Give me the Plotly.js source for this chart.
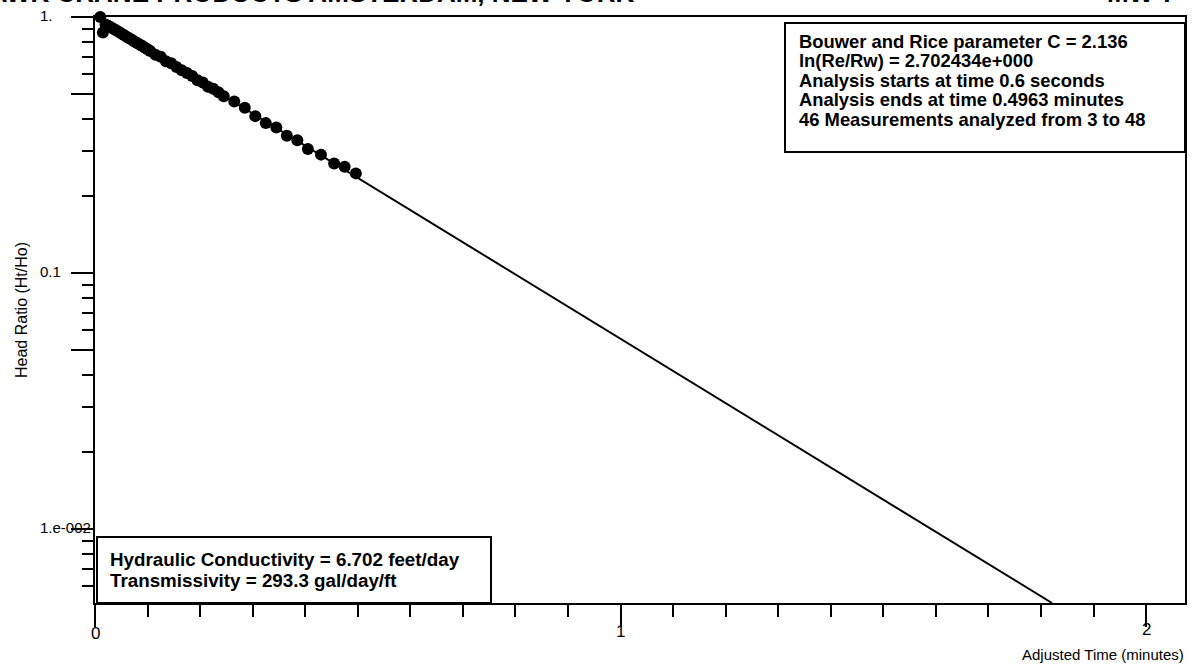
<!DOCTYPE html>
<html>
<head>
<meta charset="utf-8">
<script src="https://cdn.plot.ly/plotly-3.0.1.min.js"></script>
<style>html,body{margin:0;padding:0;background:#fff;}#chart{width:1193px;height:666px;}</style>
</head>
<body>
<div id="chart"></div>
<script>
// ---- data ----
const timeMin = [0.010,0.015,0.020,0.025,0.030,0.035,0.040,0.045,0.050,0.055,
  0.060,0.065,0.070,0.075,0.080,0.085,0.090,0.095,0.100,0.105,
  0.115,0.125,0.135,0.145,0.155,0.165,0.175,0.185,0.195,0.205,
  0.215,0.225,0.235,0.245,0.265,0.285,0.305,0.325,0.345,0.365,
  0.385,0.405,0.430,0.455,0.475,0.4963];
const headRatio = [1.000,0.870,0.935,0.925,0.912,0.900,0.888,0.876,0.862,0.850,
  0.838,0.826,0.815,0.803,0.792,0.781,0.770,0.758,0.748,0.737,
  0.712,0.700,0.672,0.660,0.638,0.620,0.604,0.588,0.566,0.555,
  0.534,0.525,0.508,0.490,0.468,0.442,0.410,0.385,0.370,0.344,
  0.330,0.305,0.290,0.268,0.260,0.245];
const fitTime = [0, 1.821];
const fitHead = [1.0, 0.00514];

const yTickVals = [1, 0.1, 0.01];
const yTickText = ["1.", "0.1", "1.e-002"];
const xTickVals = [0, 1, 2];
const xTickText = ["0", "1", "2"];

const titleLeft = "MOHAWK CRANE PRODUCTS AMSTERDAM, NEW YORK";
const titleRight = "MW-7";
const infoLines = [
  "Bouwer and Rice parameter C = 2.136",
  "ln(Re/Rw) = 2.702434e+000",
  "Analysis starts at time 0.6 seconds",
  "Analysis ends at time 0.4963 minutes",
  "46 Measurements analyzed from 3 to 48"
];
const resultLines = [
  "Hydraulic Conductivity = 6.702 feet/day",
  "Transmissivity = 293.3 gal/day/ft"
];
const xTitle = "Adjusted Time (minutes)";
const yTitle = "Head Ratio (Ht/Ho)";

// ---- layout helpers ----
const W = 1193, H = 666;
const L = 95, R = 1185, T = 17, B = 603;
const px = x => (x - L) / (R - L);
const py = y => (B - y) / (B - T);
const FONT = "Liberation Sans, Arial, sans-serif";

const traces = [
  {x: fitTime, y: fitHead, type: 'scatter', mode: 'lines',
   line: {color: '#000', width: 2}, hoverinfo: 'skip'},
  {x: timeMin, y: headRatio, type: 'scatter', mode: 'markers',
   marker: {color: '#000', size: 12}, cliponaxis: false}
];

const annotations = [];
// y tick labels (left aligned)
yTickVals.forEach((v, i) => annotations.push({
  xref: 'paper', yref: 'y', x: px(38), y: Math.log10(v), xanchor: 'left', yanchor: 'middle',
  text: yTickText[i], showarrow: false, yshift: 2,
  font: {family: FONT, size: 15, color: '#000'}
}));
// x tick labels
const xLabY = [633, 631, 629];
xTickVals.forEach((v, i) => annotations.push({
  xref: 'x', yref: 'paper', x: v, y: py(xLabY[i]), xanchor: 'center', yanchor: 'middle',
  text: xTickText[i], showarrow: false,
  font: {family: FONT, size: 17, color: '#000'}
}));
// info box lines
const infoY = [41, 60.5, 80, 99.5, 119];
infoLines.forEach((t, i) => annotations.push({
  xref: 'paper', yref: 'paper', x: px(797), y: py(infoY[i]), xanchor: 'left', yanchor: 'middle',
  text: t, showarrow: false, font: {family: FONT, size: 18.4, color: '#000', weight: 'bold'}
}));
const resY = [559, 580];
resultLines.forEach((t, i) => annotations.push({
  xref: 'paper', yref: 'paper', x: px(108), y: py(resY[i]), xanchor: 'left', yanchor: 'middle',
  text: t, showarrow: false, font: {family: FONT, size: 18.8, color: '#000', weight: 'bold'}
}));
annotations.push({
  xref: 'paper', yref: 'paper', x: px(1186), y: py(654), xanchor: 'right', yanchor: 'middle',
  text: xTitle, showarrow: false, font: {family: FONT, size: 15, color: '#000'}
});
annotations.push({
  xref: 'paper', yref: 'paper', x: px(21), y: py(310), xanchor: 'center', yanchor: 'middle',
  text: yTitle, textangle: -90, showarrow: false, font: {family: FONT, size: 16, color: '#000'}
});
annotations.push({
  xref: 'paper', yref: 'paper', x: px(637), y: py(-7), xanchor: 'right', yanchor: 'middle',
  text: titleLeft, showarrow: false, font: {family: FONT, size: 26, color: '#000', weight: 'bold'}
});
annotations.push({
  xref: 'paper', yref: 'paper', x: px(1178), y: py(-7), xanchor: 'right', yanchor: 'middle',
  text: titleRight, showarrow: false, font: {family: FONT, size: 26, color: '#000', weight: 'bold'}
});

const shapes = [
  {type: 'rect', xref: 'paper', yref: 'paper', x0: px(785), x1: px(1185), y0: py(152), y1: py(23),
   line: {color: '#000', width: 2}, fillcolor: 'rgba(255,255,255,1)', layer: 'above'},
  {type: 'rect', xref: 'paper', yref: 'paper', x0: px(97), x1: px(491), y0: py(603), y1: py(537),
   line: {color: '#000', width: 2}, fillcolor: 'rgba(255,255,255,1)', layer: 'above'}
];

const layout = {
  width: W, height: H,
  margin: {l: L, r: W - R, t: T, b: H - B, pad: 0},
  paper_bgcolor: '#fff', plot_bgcolor: '#fff',
  showlegend: false,
  font: {family: FONT, color: '#000'},
  xaxis: {
    range: [0, 2.074], showgrid: false, zeroline: false,
    showline: true, linecolor: '#000', linewidth: 2, mirror: true,
    ticks: 'outside', ticklen: 22, tickwidth: 2, tickcolor: '#000',
    tickmode: 'array', tickvals: xTickVals, showticklabels: false,
    minor: {dtick: 0.1, tick0: 0, ticks: 'outside', ticklen: 12, tickwidth: 2, tickcolor: '#000', showgrid: false}
  },
  yaxis: {
    type: 'log', range: [Math.log10(0.00514), 0], showgrid: false, zeroline: false,
    showline: true, linecolor: '#000', linewidth: 2, mirror: true,
    ticks: 'outside', ticklen: 22, tickwidth: 2, tickcolor: '#000',
    tickmode: 'array', tickvals: [1, 0.5, 0.1, 0.05, 0.01], showticklabels: false,
    minor: {dtick: 'D1', ticks: 'outside', ticklen: 11, tickwidth: 2, tickcolor: '#000', showgrid: false}
  },
  annotations: annotations,
  shapes: shapes
};

Plotly.newPlot('chart', traces, layout, {staticPlot: true, displayModeBar: false});
</script>
</body>
</html>
